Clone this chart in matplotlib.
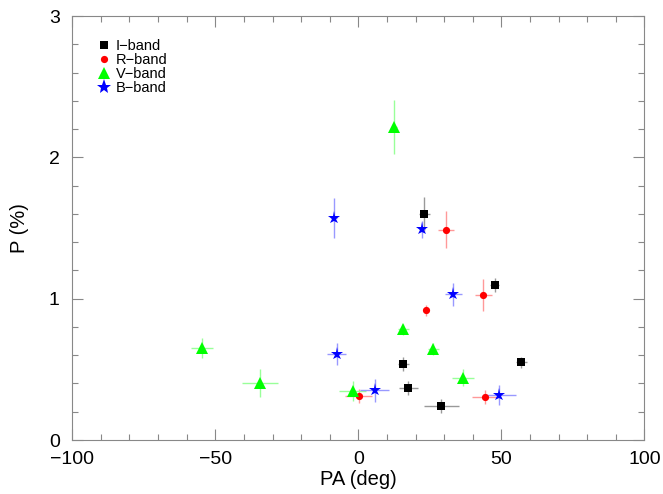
import matplotlib
matplotlib.use("Agg")
import matplotlib.pyplot as plt
from matplotlib.ticker import MultipleLocator

plt.rcParams['font.family'] = ['Liberation Sans', 'DejaVu Sans']

# I-band
i_pa = [23.1, 47.6, 15.7, 57.0, 17.5, 29.0]
i_p = [1.597, 1.095, 0.538, 0.550, 0.366, 0.238]
i_pa_err = [2.0, 1.5, 2.0, 2.0, 3.4, 6.2]
i_p_err = [0.125, 0.05, 0.05, 0.04, 0.05, 0.05]

# R-band
r_pa = [30.8, 43.7, 23.6, 0.2, 44.4]
r_p = [1.488, 1.026, 0.918, 0.314, 0.306]
r_pa_err = [2.8, 2.9, 1.0, 4.7, 4.5]
r_p_err = [0.13, 0.11, 0.04, 0.05, 0.05]

# V-band
v_pa = [12.6, -54.6, -34.4, 15.7, 26.2, 36.7, -1.9]
v_p = [2.217, 0.653, 0.401, 0.783, 0.644, 0.441, 0.347]
v_pa_err = [1.0, 3.8, 6.4, 2.0, 2.0, 3.8, 4.7]
v_p_err = [0.19, 0.07, 0.10, 0.04, 0.04, 0.06, 0.07]

# B-band
b_pa = [-8.4, 22.2, 33.2, -7.6, 5.7, 49.3]
b_p = [1.569, 1.491, 1.031, 0.609, 0.352, 0.318]
b_pa_err = [1.0, 1.0, 3.0, 3.4, 5.1, 5.7]
b_p_err = [0.14, 0.06, 0.08, 0.08, 0.08, 0.07]

x_range = (-100, 100)
y_range = (0, 3)

fig = plt.figure(figsize=(6.63, 4.94), dpi=100)
ax = fig.add_axes([0.109, 0.1093, 0.863, 0.8583])

def band(pa, p, pae, pe, color, ecolor, marker, ms, label):
    ax.errorbar(pa, p, xerr=pae, yerr=pe, fmt='none', ecolor=ecolor,
                elinewidth=1.0, capsize=0, zorder=2)
    ax.plot(pa, p, linestyle='none', marker=marker, color=color, ms=ms,
            markeredgewidth=0, label=label, zorder=3)

band(i_pa, i_p, i_pa_err, i_p_err, 'black', '#999999', 's', 5.2, 'I\u2212band')
band(r_pa, r_p, r_pa_err, r_p_err, 'red', '#ff9999', 'o', 5.2, 'R\u2212band')
band(v_pa, v_p, v_pa_err, v_p_err, '#00ff00', '#99ff99', '^', 8, 'V\u2212band')
band(b_pa, b_p, b_pa_err, b_p_err, 'blue', '#9999ff', '*', 9.5, 'B\u2212band')

ax.set_xlim(*x_range)
ax.set_ylim(*y_range)
ax.xaxis.set_major_locator(MultipleLocator(50))
ax.xaxis.set_minor_locator(MultipleLocator(10))
ax.yaxis.set_major_locator(MultipleLocator(1))
ax.yaxis.set_minor_locator(MultipleLocator(0.2))
ax.tick_params(which='both', direction='in', top=True, right=True,
               color='#888888', labelsize=14)
ax.tick_params(which='major', length=8, width=0.8)
ax.tick_params(which='minor', length=4, width=0.8)
ax.tick_params(axis='x', which='both', pad=8)
ax.tick_params(axis='y', which='both', pad=9)
for s in ax.spines.values():
    s.set_color('#888888')
    s.set_linewidth(0.8)

ax.set_xlabel('PA (deg)', fontsize=14.5, labelpad=1)
ax.set_ylabel('P (%)', fontsize=14.5, labelpad=14)

leg = ax.legend(loc='upper left', bbox_to_anchor=(0.025, 0.97), frameon=False,
                fontsize=10.5, handlelength=1.0, handletextpad=0.3,
                labelspacing=0.0, borderpad=0.2)
for h in leg.legend_handles:
    if h.get_marker() == '*':
        h.set_markersize(11)

fig.savefig('out.png', dpi=100)
